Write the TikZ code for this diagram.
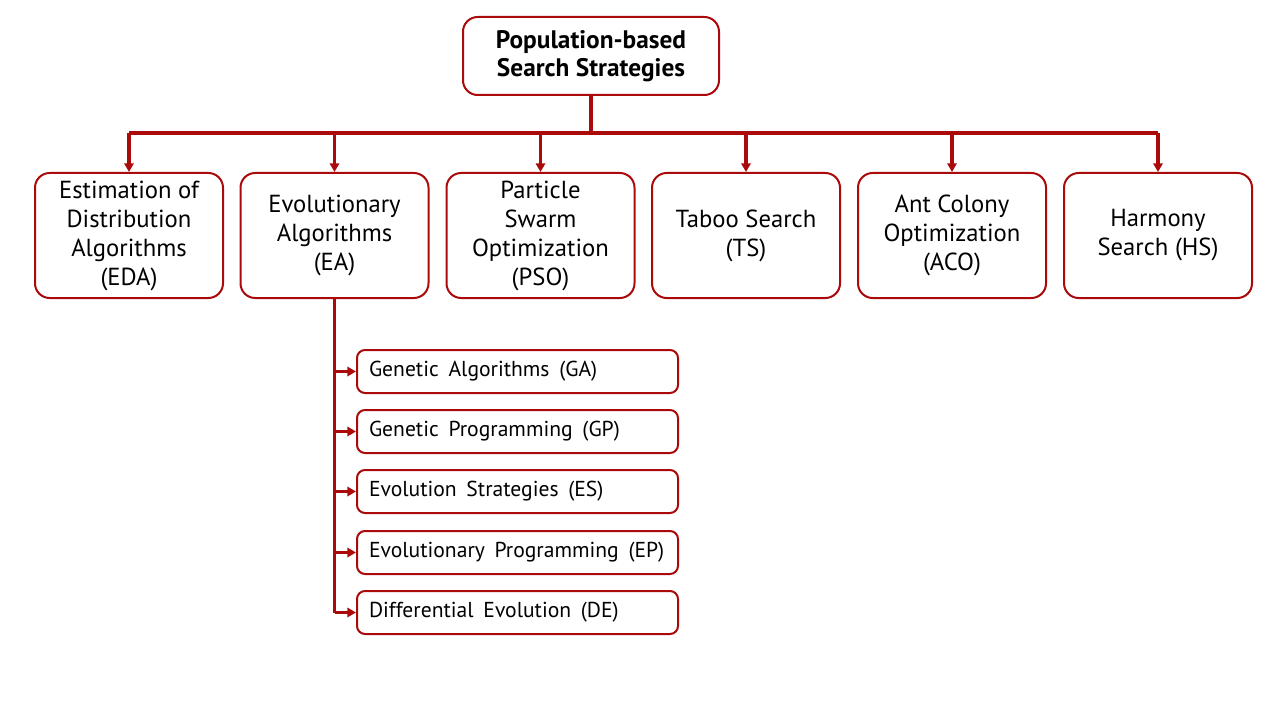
\documentclass[tikz,border=0pt]{standalone}
\usepackage{fontspec}
\setmainfont{PT Sans}
\usetikzlibrary{arrows.meta}
\definecolor{dred}{RGB}{170,10,10}
\newcommand{\widespacing}{\spaceskip=0.45em plus 0.1em\relax}
\begin{document}
\begin{tikzpicture}[x=0.75pt,y=-0.75pt,
  topbox/.style={draw=dred,line width=1.5pt,rounded corners=11pt,fill=white,
    minimum width=188*0.75pt,minimum height=125*0.75pt,align=center,
    font=\fontsize{18.5}{21.75}\selectfont,inner sep=0pt},
  rootbox/.style={draw=dred,line width=1.5pt,rounded corners=11pt,fill=white,
    minimum width=256*0.75pt,minimum height=78*0.75pt,align=center,
    font=\bfseries\fontsize{19}{21}\selectfont,inner sep=0pt},
  subbox/.style={draw=dred,line width=1.5pt,rounded corners=6pt,fill=white,
    minimum width=321*0.75pt,minimum height=43*0.75pt,anchor=west,
    font=\fontsize{16.2}{18}\selectfont,execute at begin node=\widespacing,
    inner sep=0pt,text width=297*0.75pt,align=left},
  conn/.style={draw=dred,line width=2.6pt},
  arr/.style={conn,-{Triangle[length=6.5pt,width=7pt]}},
]
\useasboundingbox (0,0) rectangle (1280,720);
\node[rootbox] (root) at (591,56) {Population-based\\Search Strategies};
\node[topbox] (eda) at (129,235.5) {Estimation of\\Distribution\\Algorithms\\(EDA)};
\node[topbox] (ea) at (334.5,235.5) {Evolutionary\\Algorithms\\(EA)};
\node[topbox] (pso) at (540.5,235.5) {Particle\\Swarm\\Optimization\\(PSO)};
\node[topbox] (ts) at (746,235.5) {Taboo Search\\(TS)};
\node[topbox] (aco) at (952,235.5) {Ant Colony\\Optimization\\(ACO)};
\node[topbox] (hs) at (1158,235.5) {Harmony\\Search (HS)};
\coordinate (bus) at (591,133);
\draw[conn] (root.south) -- (bus);
\draw[conn] (eda.north |- bus) -- (hs.north |- bus);
\foreach \n in {eda,ea,pso,ts,aco,hs}{
  \draw[arr] (\n.north |- bus) -- (\n.north);
}
\node[subbox] (ga) at (356,371.5) {Genetic Algorithms (GA)};
\node[subbox] (gp) at (356,431.5) {Genetic Programming (GP)};
\node[subbox] (es) at (356,491.5) {Evolution Strategies (ES)};
\node[subbox] (ep) at (356,552.5) {Evolutionary Programming (EP)};
\node[subbox] (de) at (356,612.5) {Differential Evolution (DE)};
\draw[conn] (ea.south) -- (ea.south |- de.west);
\foreach \n in {ga,gp,es,ep,de}{
  \draw[arr] (ea.south |- \n.west) -- (\n.west);
}
\end{tikzpicture}
\end{document}
